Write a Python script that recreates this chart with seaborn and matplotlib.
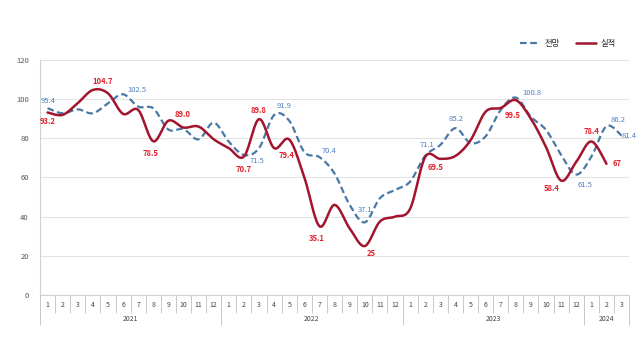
import numpy as np
import pandas as pd
import matplotlib
matplotlib.use('Agg')
import matplotlib.pyplot as plt
import seaborn as sns

# 월별 데이터 (2021.1 ~ 2024.3)
years = ['2021', '2022', '2023', '2024']
months_per_year = [12, 12, 12, 3]
month_labels = [str(m) for n in months_per_year for m in range(1, n + 1)]

forecast = [95.4, 92.8, 94.8, 92.8, 97.9, 102.5, 96.2, 95.3, 84.5, 84.7, 79.5, 88.0,
            78.3, 71.5, 75.0, 91.9, 89.0, 73.0, 70.4, 62.0, 46.0, 37.1, 49.4, 53.6,
            57.9, 71.1, 76.6, 85.2, 77.6, 81.0, 94.5, 100.8, 91.0, 84.3, 71.5, 61.5,
            70.6, 86.2, 81.4]
actual = [93.2, 92.0, 98.0, 104.7, 103.0, 92.5, 94.5, 78.5, 89.0, 85.5, 86.0, 79.5,
          75.0, 70.7, 89.8, 75.0, 79.4, 60.0, 35.1, 46.0, 34.0, 25.0, 37.5, 40.0,
          44.0, 70.5, 69.5, 71.0, 79.0, 93.6, 95.5, 99.5, 90.0, 75.5, 58.4, 68.0,
          78.4, 67.0]

# 라벨 표시할 지점 (인덱스, 텍스트, x/y 오프셋 px)
actual_labels = [(0, '93.2', 0, -9), (3, '104.7', 10, 8), (7, '78.5', -3, -12),
                 (8, '89.0', 14, 6), (13, '70.7', 0, -13), (14, '89.8', 0, 9),
                 (16, '79.4', -3, -16), (18, '35.1', -3, -12), (21, '25', 6, -7),
                 (26, '69.5', -5, -9), (31, '99.5', -3, -15), (34, '58.4', -9, -8),
                 (36, '78.4', 0, 10), (37, '67', 11, 0)]
forecast_labels = [(0, '95.4', 1, 7), (5, '102.5', 14, 4), (13, '71.5', 13, -6),
                   (15, '91.9', 10, 9), (18, '70.4', 10, 6), (21, '37.1', 0, 12),
                   (25, '71.1', 2, 11), (27, '85.2', 1, 9), (31, '100.8', 16, 5),
                   (35, '61.5', 9, -10), (37, '86.2', 12, 6), (38, '81.4', 8, 0)]


def smooth(y, n=20):
    # 엑셀 스타일 부드러운 선 (베지어)
    y = np.asarray(y, dtype=float)
    x = np.arange(len(y), dtype=float)
    xs, ys = [], []
    t = np.linspace(0, 1, n)
    for i in range(len(y) - 1):
        i0, i3 = max(i - 1, 0), min(i + 2, len(y) - 1)
        px = [x[i], x[i] + (x[i + 1] - x[i0]) / 6, x[i + 1] - (x[i3] - x[i]) / 6, x[i + 1]]
        py = [y[i], y[i] + (y[i + 1] - y[i0]) / 6, y[i + 1] - (y[i3] - y[i]) / 6, y[i + 1]]
        b = [(1 - t) ** 3, 3 * (1 - t) ** 2 * t, 3 * (1 - t) * t ** 2, t ** 3]
        xs.append(sum(c * p for c, p in zip(b, px)))
        ys.append(sum(c * p for c, p in zip(b, py)))
    return np.concatenate(xs), np.concatenate(ys)


sns.set_style('white')
plt.rcParams['font.family'] = ['Noto Sans CJK KR', 'DejaVu Sans']

blue = '#4a78a4'
red = '#a3142e'

fig = plt.figure(figsize=(6.4, 3.6), dpi=100)
ax = fig.add_axes([0.0625, 0.1806, 0.9205, 0.6527])

fx, fy = smooth(forecast)
ax_x, ax_y = smooth(actual)
sns.lineplot(x=fx, y=fy, ax=ax, color=blue, linewidth=1.6, sort=False, estimator=None,
             label='전망', dashes=False)
ax.lines[-1].set_dashes([3, 1.6])
sns.lineplot(x=ax_x, y=ax_y, ax=ax, color=red, linewidth=1.8, sort=False, estimator=None,
             label='실적')

for i, txt, dx, dy in actual_labels:
    ax.annotate(txt, (i, actual[i]), xytext=(dx, dy), textcoords='offset pixels',
                ha='center', va='center', fontsize=5.5, color='#e3202b', fontweight='bold')
for i, txt, dx, dy in forecast_labels:
    ax.annotate(txt, (i, forecast[i]), xytext=(dx, dy), textcoords='offset pixels',
                ha='center', va='center', fontsize=5.5, color='#4f7fc0')

ax.set_xlim(-0.5, len(month_labels) - 0.5)
ax.set_ylim(0, 120)
ax.set_yticks(range(0, 121, 20))
ax.tick_params(axis='y', labelsize=5.5, colors='#555555', length=0, pad=8)
ax.grid(axis='y', color='#e4e4e4', linewidth=0.8)
ax.set_xticks(range(len(month_labels)))
ax.set_xticklabels(month_labels)
ax.tick_params(axis='x', labelsize=5, colors='#444444', length=0, pad=4)

for s in ['top', 'right']:
    ax.spines[s].set_visible(False)
for s in ['left', 'bottom']:
    ax.spines[s].set_color('#d0d0d0')
    ax.spines[s].set_linewidth(0.8)

# 월/연도 구분선
xt = ax.get_xaxis_transform()
bounds = np.arange(-0.5, len(month_labels), 1.0)
ax.vlines(bounds, -0.077, 0, transform=xt, color='#c8c8c8', linewidth=0.7, clip_on=False)
year_edges = np.concatenate([[0], np.cumsum(months_per_year)]) - 0.5
ax.vlines(year_edges, -0.128, 0, transform=xt, color='#c8c8c8', linewidth=0.7, clip_on=False)
for k, yr in enumerate(years):
    mid = (year_edges[k] + year_edges[k + 1]) / 2
    ax.text(mid, -0.102, yr, transform=xt, ha='center', va='center', fontsize=5,
            color='#444444')

ax.legend(loc='lower right', bbox_to_anchor=(0.99, 1.02), ncol=2, frameon=False,
          fontsize=6, handlelength=2.4, columnspacing=2.0, handletextpad=0.5)
ax.set_xlabel('')
ax.set_ylabel('')

fig.savefig('out.png', dpi=100)
